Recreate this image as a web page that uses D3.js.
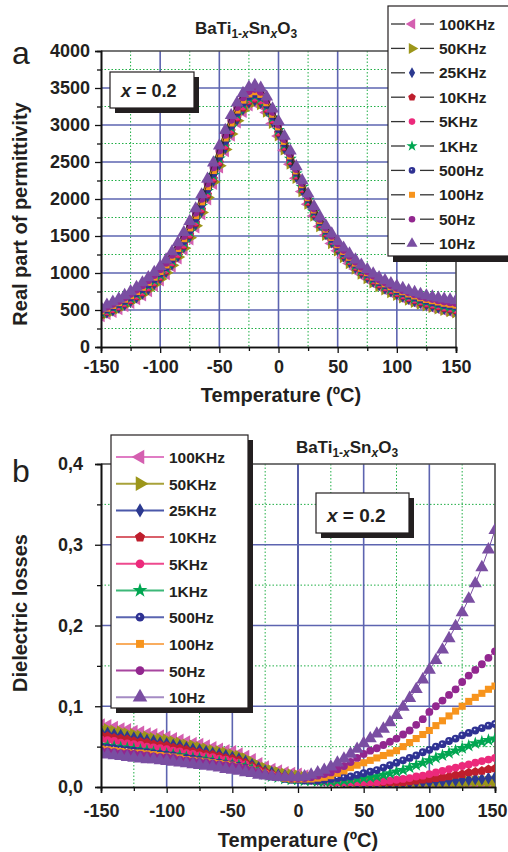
<!DOCTYPE html>
<html><head><meta charset="utf-8">
<script src="https://cdn.jsdelivr.net/npm/d3@7"></script>
<style>body{margin:0;background:#fff} text{font-family:"Liberation Sans",Arial,Helvetica,sans-serif}</style>
</head><body><svg id="c" width="508" height="852"></svg>
<script>
// ---------- DATA ----------
const temps = [-150,-145,-140,-135,-130,-125,-120,-115,-110,-105,-100,-95,-90,-85,-80,-75,-70,-65,-60,-55,-50,-45,-40,-35,-30,-25,-20,-15,-10,-5,0,5,10,15,20,25,30,35,40,45,50,55,60,65,70,75,80,85,90,95,100,105,110,115,120,125,130,135,140,145,150];
const freqs = ["100KHz","50KHz","25KHz","10KHz","5KHz","1KHz","500Hz","100Hz","50Hz","10Hz"];
const colors = ["#d45fb0","#9c961a","#2b3990","#be1e2d","#ec297b","#00a651","#2e3192","#f7941d","#92278f","#7a4ea2"];
const lineColors = ["#e07cc4","#a8a23a","#4b58aa","#d9606a","#ee4a8e","#3cb878","#5a64b0","#f9ad5f","#a8459f","#a58bc4"];
const shapes = ["triL","triR","diamond","pent","circle","star","circHi","square","circle","triU"];

// Real part of permittivity (panel a)
const eps100k = [420,450,480,515,555,600,650,700,760,830,905,990,1090,1200,1320,1460,1620,1800,2000,2210,2430,2650,2860,3040,3180,3270,3300,3270,3170,3020,2850,2660,2470,2280,2100,1930,1770,1630,1510,1400,1300,1210,1130,1055,985,925,870,820,775,735,700,665,635,605,580,555,535,515,495,478,460];
const eps50k = [428,458,489,524,565,610,661,712,773,843,918,1003,1104,1215,1336,1477,1638,1818,2019,2230,2450,2670,2879,3058,3198,3287,3317,3286,3185,3034,2864,2673,2483,2291,2110,1940,1779,1639,1519,1409,1309,1219,1139,1064,994,934,878,828,784,744,709,674,644,614,589,565,545,525,506,489,472];
const eps25k = [435,467,498,534,575,621,672,724,785,855,931,1017,1118,1229,1352,1494,1655,1836,2038,2249,2471,2689,2898,3076,3215,3304,3334,3302,3199,3048,2878,2687,2495,2302,2121,1950,1788,1648,1528,1418,1318,1228,1148,1073,1003,943,887,837,793,753,718,683,653,624,599,575,555,536,517,501,484];
const eps10k = [444,476,509,545,587,633,685,737,800,870,946,1032,1134,1246,1371,1513,1675,1857,2059,2272,2494,2712,2919,3097,3235,3323,3353,3321,3216,3064,2894,2702,2510,2315,2133,1961,1799,1659,1539,1429,1329,1239,1159,1083,1013,953,896,846,803,763,728,694,664,635,610,586,567,548,529,514,497];
const eps5k = [451,484,516,553,596,642,695,748,810,880,957,1043,1146,1259,1384,1527,1690,1873,2076,2288,2511,2728,2936,3113,3250,3337,3367,3334,3229,3076,2906,2713,2520,2325,2142,1969,1806,1666,1546,1436,1336,1246,1166,1090,1020,960,904,854,810,770,735,701,671,643,618,594,576,557,538,523,508];
const eps1k = [464,498,532,569,613,660,714,768,832,902,979,1066,1170,1284,1412,1556,1720,1904,2108,2322,2546,2762,2968,3144,3280,3366,3396,3362,3254,3100,2930,2736,2542,2344,2160,1986,1822,1682,1562,1452,1352,1262,1182,1105,1035,975,918,868,825,785,750,717,687,659,634,611,593,575,557,543,528];
const eps500 = [472,506,541,578,623,670,725,780,845,915,992,1079,1184,1299,1428,1573,1738,1922,2127,2342,2566,2782,2987,3162,3298,3383,3413,3378,3269,3114,2944,2749,2555,2355,2170,1996,1831,1691,1571,1461,1361,1271,1191,1114,1044,984,926,876,834,794,759,726,696,668,643,621,603,585,568,554,540];
const eps100 = [488,524,561,599,645,693,749,805,872,942,1020,1108,1214,1330,1463,1609,1775,1961,2167,2384,2610,2824,3027,3201,3335,3419,3449,3413,3300,3144,2974,2778,2582,2379,2193,2017,1851,1711,1591,1481,1381,1291,1211,1133,1063,1003,944,894,853,813,778,746,716,689,664,642,625,608,591,578,565];
const eps50 = [505,542,580,619,667,715,773,831,899,969,1047,1136,1244,1362,1497,1645,1813,2000,2208,2426,2653,2866,3068,3240,3373,3455,3485,3447,3332,3174,3004,2806,2609,2403,2215,2038,1870,1730,1610,1500,1400,1310,1230,1151,1081,1021,962,912,871,831,796,765,735,709,684,663,647,630,614,603,591];
const eps10 = [530,570,610,650,700,750,810,870,940,1010,1090,1180,1290,1410,1550,1700,1870,2060,2270,2490,2720,2930,3130,3300,3430,3510,3540,3500,3380,3220,3050,2850,2650,2440,2250,2070,1900,1760,1640,1530,1430,1340,1260,1180,1110,1050,990,940,900,860,825,795,765,740,715,695,680,665,650,640,630];

// Dielectric losses (panel b)
const loss100k = [.077,.076,.074,.072,.071,.069,.068,.066,.065,.063,.062,.060,.058,.056,.054,.053,.051,.049,.047,.045,.044,.041,.038,.034,.029,.025,.022,.020,.018,.017,.016,.014,.012,.011,.010,.009,.008,.007,.007,.006,.006,.005,.005,.005,.005,.005,.005,.005,.005,.005,.004,.004,.004,.004,.004,.004,.004,.004,.004,.004,.004];
const loss50k = [.072,.071,.069,.068,.066,.065,.063,.062,.060,.059,.058,.056,.054,.052,.051,.049,.047,.045,.044,.042,.040,.038,.035,.031,.026,.023,.020,.018,.016,.015,.014,.012,.011,.010,.009,.008,.007,.007,.006,.006,.005,.005,.005,.005,.005,.005,.005,.005,.005,.005,.005,.005,.005,.005,.005,.005,.006,.006,.006,.006,.006];
const loss25k = [.068,.067,.065,.064,.062,.061,.060,.058,.057,.055,.054,.052,.051,.049,.047,.046,.044,.042,.041,.039,.037,.035,.032,.028,.024,.020,.018,.015,.014,.013,.012,.011,.010,.009,.008,.007,.007,.006,.006,.005,.005,.005,.005,.005,.005,.005,.005,.005,.006,.006,.006,.007,.007,.008,.008,.009,.009,.010,.010,.011,.012];
const loss10k = [.064,.063,.061,.060,.059,.057,.056,.055,.053,.052,.051,.049,.048,.046,.044,.043,.041,.040,.038,.036,.035,.033,.030,.026,.022,.019,.016,.014,.013,.012,.011,.010,.009,.008,.007,.007,.006,.006,.006,.006,.006,.006,.006,.006,.006,.006,.006,.007,.008,.009,.010,.011,.012,.013,.015,.016,.018,.019,.020,.022,.023];
const loss5k = [.059,.058,.057,.055,.054,.053,.052,.050,.049,.048,.047,.045,.044,.042,.041,.039,.038,.037,.035,.034,.032,.030,.028,.024,.020,.017,.015,.013,.012,.011,.010,.009,.008,.007,.007,.006,.006,.006,.006,.006,.006,.006,.006,.007,.008,.009,.010,.011,.013,.014,.016,.018,.020,.022,.024,.026,.028,.030,.032,.034,.036];
const loss1k = [.052,.051,.050,.049,.048,.047,.046,.045,.043,.042,.041,.040,.039,.037,.036,.035,.034,.032,.031,.030,.028,.027,.025,.022,.018,.016,.013,.012,.010,.009,.009,.008,.008,.007,.007,.007,.008,.008,.009,.010,.011,.012,.013,.015,.017,.019,.021,.024,.027,.030,.033,.036,.039,.042,.045,.048,.051,.054,.056,.058,.060];
const loss500 = [.050,.049,.048,.047,.046,.045,.044,.043,.042,.041,.040,.039,.037,.036,.035,.034,.032,.031,.030,.029,.028,.026,.024,.021,.018,.015,.013,.012,.010,.009,.009,.008,.008,.008,.009,.010,.011,.012,.013,.015,.017,.019,.021,.024,.027,.030,.033,.036,.039,.043,.046,.050,.053,.057,.060,.064,.067,.070,.073,.076,.078];
const loss100 = [.047,.046,.045,.044,.043,.042,.042,.041,.040,.039,.038,.037,.036,.034,.033,.032,.031,.030,.029,.028,.027,.025,.023,.021,.018,.016,.014,.012,.011,.010,.010,.010,.010,.011,.012,.014,.017,.020,.024,.027,.030,.033,.036,.039,.042,.045,.050,.055,.060,.065,.070,.076,.082,.088,.094,.100,.106,.111,.116,.121,.125];
const loss50 = [.045,.044,.043,.042,.042,.041,.040,.039,.038,.037,.037,.036,.034,.033,.032,.031,.030,.029,.028,.027,.026,.025,.023,.021,.018,.016,.014,.013,.012,.011,.011,.011,.012,.014,.016,.018,.022,.026,.031,.036,.041,.045,.048,.052,.056,.060,.065,.070,.077,.084,.093,.100,.107,.114,.121,.130,.138,.145,.152,.160,.168];
const loss10 = [.041,.040,.039,.038,.037,.036,.035,.034,.034,.033,.032,.031,.030,.029,.028,.027,.026,.025,.024,.022,.021,.020,.018,.017,.015,.014,.013,.012,.012,.012,.012,.013,.015,.018,.021,.025,.030,.035,.041,.047,.054,.060,.066,.072,.080,.089,.099,.110,.121,.133,.145,.157,.170,.184,.199,.216,.233,.252,.272,.294,.318];

const xTicks = [-150,-100,-50,0,50,100,150];
const xLabels = ["-150","-100","-50","0","50","100","150"];
const xMinor = [-125,-75,-25,25,75,125];
const yTicksA = [0,500,1000,1500,2000,2500,3000,3500,4000];
const yMinorA = [250,750,1250,1750,2250,2750,3250,3750];
const yTicksB = [0,0.1,0.2,0.3,0.4];
const yLabelsB = ["0,0","0,1","0,2","0,3","0,4"];
const yMinorB = [0.05,0.15,0.25,0.35];

const epsSeries = [eps100k,eps50k,eps25k,eps10k,eps5k,eps1k,eps500,eps100,eps50,eps10];
const lossSeries = [loss100k,loss50k,loss25k,loss10k,loss5k,loss1k,loss500,loss100,loss50,loss10];

// ---------- DRAW ----------
const svg = d3.select("#c");
svg.append("rect").attr("width",508).attr("height",852).attr("fill","#fff");

const symbolPentagon = { draw(ctx, size){ const r = Math.sqrt(size/2.378);
  for(let i=0;i<5;i++){ const a=-Math.PI/2+i*2*Math.PI/5; const px=r*Math.cos(a), py=r*Math.sin(a); if(i===0) ctx.moveTo(px,py); else ctx.lineTo(px,py);} ctx.closePath(); } };

function marker(g, shape, color, x, y, k){
  let type=d3.symbolCircle, size=40*k, rot=0;
  if(shape==="triU"){type=d3.symbolTriangle; size=62*k;}
  if(shape==="triL"){type=d3.symbolTriangle; size=62*k; rot=-90;}
  if(shape==="triR"){type=d3.symbolTriangle; size=62*k; rot=90;}
  if(shape==="diamond"){type=d3.symbolDiamond; size=40*k;}
  if(shape==="pent"){type=symbolPentagon; size=45*k;}
  if(shape==="star"){type=d3.symbolStar; size=45*k;}
  if(shape==="square"){type=d3.symbolSquare; size=42*k;}
  if(shape==="circle"||shape==="circHi"){type=d3.symbolCircle; size=40*k;}
  g.append("path").attr("d", d3.symbol().type(type).size(size)())
    .attr("transform", `translate(${x},${y}) rotate(${rot})`).attr("fill", color);
  if(shape==="circHi"){
    g.append("circle").attr("cx",x-0.6*Math.sqrt(k)).attr("cy",y-0.8*Math.sqrt(k)).attr("r",0.8*Math.sqrt(k)).attr("fill","#dfe3ff");
  }
}

function panel(opt){
  const {x, y, series, top, bottom, left, right, id} = opt;
  const g = svg.append("g");
  const grid = g.append("g");
  grid.selectAll(".gm").data(xMinor).join("line")
    .attr("x1",d=>x(d)).attr("x2",d=>x(d)).attr("y1",top).attr("y2",bottom)
    .attr("stroke","#1fae45").attr("stroke-width",1).attr("stroke-dasharray","1.5,2");
  grid.selectAll(".hm").data(opt.yMinor).join("line")
    .attr("y1",d=>y(d)).attr("y2",d=>y(d)).attr("x1",left).attr("x2",right)
    .attr("stroke","#1fae45").attr("stroke-width",1).attr("stroke-dasharray","1.5,2");
  grid.selectAll(".gM").data(xTicks.slice(1,-1)).join("line")
    .attr("x1",d=>x(d)).attr("x2",d=>x(d)).attr("y1",top).attr("y2",bottom)
    .attr("stroke",d=>d===0&&id==="b"?"#2b3592":"#5d64b0").attr("stroke-width",1.6);
  grid.selectAll(".hM").data(opt.yTicks.slice(1,-1)).join("line")
    .attr("y1",d=>y(d)).attr("y2",d=>y(d)).attr("x1",left).attr("x2",right)
    .attr("stroke","#5d64b0").attr("stroke-width",1.6);
  g.append("path").attr("d",`M${left},${top}H${right}V${bottom}`).attr("fill","none").attr("stroke","#4a4a4a").attr("stroke-width",1.6);
  svg.append("clipPath").attr("id","clip"+id).append("rect").attr("x",left).attr("y",top).attr("width",right-left).attr("height",bottom-top);
  const dg = g.append("g").attr("clip-path",`url(#clip${id})`);
  series.forEach((vals,i)=>{
    const pts = temps.map((t,j)=>[x(t), y(vals[j])]);
    dg.append("path").attr("d", d3.line()(pts)).attr("fill","none")
      .attr("stroke", id==="a" ? "#222" : colors[i]).attr("stroke-width", id==="a"?0.8:1);
    pts.forEach(p=>marker(dg, shapes[i], colors[i], p[0], p[1], opt.mk));
  });
  const ax = g.append("g").attr("transform",`translate(0,${bottom})`);
  ax.call(d3.axisBottom(x).tickValues(xMinor).tickSize(4).tickFormat(""));
  const ax2 = g.append("g").attr("transform",`translate(0,${bottom})`);
  ax2.call(d3.axisBottom(x).tickValues(xTicks).tickSize(6).tickPadding(opt.xPad).tickFormat((d,i)=>xLabels[i]));
  const ay = g.append("g").attr("transform",`translate(${left},0)`);
  ay.call(d3.axisLeft(y).tickValues(opt.yMinor).tickSize(4).tickFormat(""));
  const ay2 = g.append("g").attr("transform",`translate(${left},0)`);
  ay2.call(d3.axisLeft(y).tickValues(opt.yTicks).tickSize(6).tickPadding(opt.yPad).tickFormat(opt.yFmt));
  [ax,ax2,ay,ay2].forEach(a=>{
    a.select(".domain").attr("stroke","#111").attr("stroke-width",1.6);
    a.selectAll(".tick line").attr("stroke","#111").attr("stroke-width",1.3);
    a.selectAll("text").attr("font-size",18).attr("font-weight","bold").attr("fill","#231f20")
      .attr("font-family",'"Liberation Sans",Arial,sans-serif');
  });
  if(id==="b"){
    // last label sits against the page edge in the reference
    ax2.selectAll(".tick").filter(d=>d===150).select("text").attr("text-anchor","end").attr("x",12);
  }
  g.append("text").attr("x",opt.xTitleX).attr("y",opt.xTitleY).attr("text-anchor","middle")
    .attr("font-size",20).attr("font-weight","bold").attr("fill","#231f20").text("Temperature (ºC)");
  g.append("text").attr("transform",`translate(${opt.yTitleX},${opt.yTitleY}) rotate(-90)`).attr("text-anchor","middle")
    .attr("font-size",20).attr("font-weight","bold").attr("fill","#231f20").text(opt.yTitle);
  return g;
}

const xa = d3.scaleLinear().domain([-150,150]).range([101,456]);
const ya = d3.scaleLinear().domain([0,4000]).range([347,51]);
panel({id:"a", x:xa, y:ya, series:epsSeries, top:51, bottom:347, left:101, right:456,
  yTicks:yTicksA, yMinor:yMinorA, yFmt:d3.format("d"), xPad:7, yPad:5, mk:1.15,
  xTitleX:281, xTitleY:402, yTitleX:27, yTitleY:214, yTitle:"Real part of permittivity"});

const xb = d3.scaleLinear().domain([-150,150]).range([101,495]);
const yb = d3.scaleLinear().domain([0,0.4]).range([787,464]);
panel({id:"b", x:xb, y:yb, series:lossSeries, top:464, bottom:787, left:101, right:495,
  yTicks:yTicksB, yMinor:yMinorB, yFmt:(d,i)=>yLabelsB[i], xPad:11, yPad:12, mk:1.2,
  xTitleX:298, xTitleY:847, yTitleX:27, yTitleY:613, yTitle:"Dielectric losses"});

function chemTitle(cx, by){
  const t = svg.append("text").attr("x",cx).attr("y",by).attr("text-anchor","middle")
    .attr("font-size",17).attr("font-weight","bold").attr("fill","#231f20");
  t.append("tspan").text("BaTi");
  t.append("tspan").attr("font-size",12).attr("dy",4).text("1-");
  t.append("tspan").attr("font-size",12).attr("font-style","italic").text("x");
  t.append("tspan").attr("dy",-4).text("Sn");
  t.append("tspan").attr("font-size",12).attr("font-style","italic").attr("dy",4).text("x");
  t.append("tspan").attr("dy",-4).text("O");
  t.append("tspan").attr("font-size",12).attr("dy",4).text("3");
}
chemTitle(246, 34);
chemTitle(347, 453);

svg.append("text").attr("x",12).attr("y",64).attr("font-size",32).attr("fill","#231f20").text("a");
svg.append("text").attr("x",12).attr("y",482).attr("font-size",32).attr("fill","#231f20").text("b");

function xBox(x0,y0,w,h,tx,ty,fs){
  svg.append("rect").attr("x",x0+5).attr("y",y0+5).attr("width",w).attr("height",h).attr("fill","#231f20");
  svg.append("rect").attr("x",x0).attr("y",y0).attr("width",w).attr("height",h).attr("fill","#fff").attr("stroke","#231f20").attr("stroke-width",1.2);
  const t = svg.append("text").attr("x",tx).attr("y",ty).attr("font-size",fs).attr("font-weight","bold").attr("fill","#231f20");
  t.append("tspan").attr("font-style","italic").text("x");
  t.append("tspan").text(" = 0.2");
}
xBox(110,72,84,36,121,97,18);
xBox(316,493,93,40,327,522,19);

// legend a
svg.append("rect").attr("x",393).attr("y",11).attr("width",130).attr("height",251).attr("fill","#231f20");
svg.append("rect").attr("x",388).attr("y",6).attr("width",130).attr("height",250).attr("fill","#fff").attr("stroke","#231f20").attr("stroke-width",1.2);
const la = svg.append("g");
freqs.forEach((f,i)=>{
  const cy = 24 + i*24.4;
  la.append("line").attr("x1",391).attr("x2",405).attr("y1",cy).attr("y2",cy).attr("stroke","#333").attr("stroke-width",1.3);
  la.append("line").attr("x1",420).attr("x2",434).attr("y1",cy).attr("y2",cy).attr("stroke","#333").attr("stroke-width",1.3);
  marker(la, shapes[i], colors[i], 412, cy, 0.85);
  la.append("text").attr("x",439).attr("y",cy+5.5).attr("font-size",15.5).attr("font-weight","bold").attr("fill","#231f20").text(f);
});

// legend b
svg.append("rect").attr("x",116).attr("y",440).attr("width",137).attr("height",273).attr("fill","#231f20");
svg.append("rect").attr("x",111).attr("y",435).attr("width",137).attr("height",273).attr("fill","#fff").attr("stroke","#231f20").attr("stroke-width",1.2);
const lb = svg.append("g");
freqs.forEach((f,i)=>{
  const cy = 457 + i*26.7;
  lb.append("line").attr("x1",116).attr("x2",164).attr("y1",cy).attr("y2",cy).attr("stroke",lineColors[i]).attr("stroke-width",2);
  marker(lb, shapes[i], colors[i], 140, cy, 1.5);
  lb.append("text").attr("x",169).attr("y",cy+6).attr("font-size",15.5).attr("font-weight","bold").attr("fill","#231f20").text(f);
});
</script></body></html>
